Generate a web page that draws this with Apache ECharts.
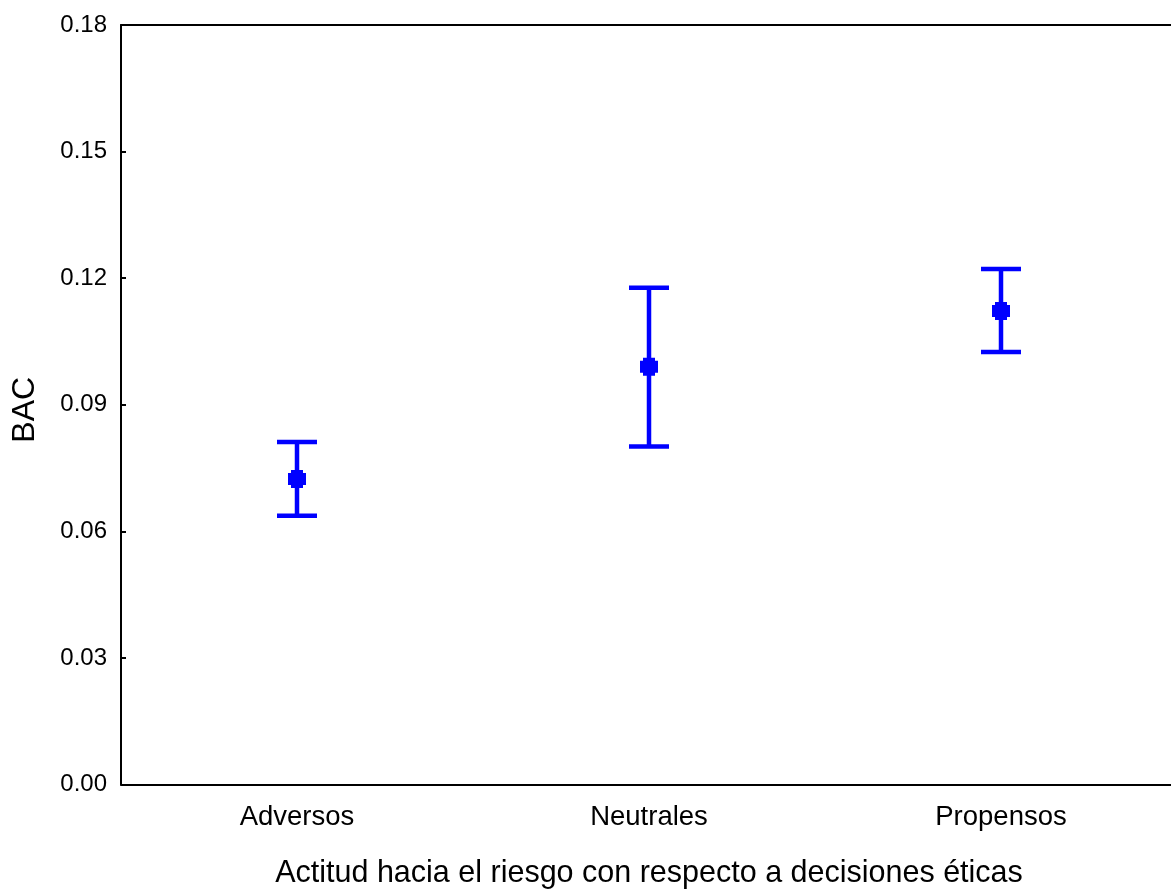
<!DOCTYPE html>
<html>
<head>
<meta charset="utf-8">
<script src="https://cdn.jsdelivr.net/npm/echarts@6/dist/echarts.min.js"></script>
<style>
  html, body { margin: 0; padding: 0; background: #fff; overflow: hidden; }
  #chart { width: 1171px; height: 889px; }
</style>
</head>
<body>
<div id="chart"></div>
<script>
// Group categories and the mean BAC with its interval bounds
const categories = ['Adversos', 'Neutrales', 'Propensos'];
const means = [0.0724, 0.0990, 0.1122];
const lowers = [0.0637, 0.0801, 0.1025];
const uppers = [0.0812, 0.1177, 0.1222];
const yTicks = [0, 0.03, 0.06, 0.09, 0.12, 0.15, 0.18];

const BLUE = '#0000ff';
const FONT = '"Liberation Sans", Arial, sans-serif';

const chart = echarts.init(document.getElementById('chart'));

chart.setOption({
  animation: false,
  // the plot frame runs slightly past the right edge of the canvas
  grid: { left: 121, top: 25, width: 1056, height: 759.5, outerBoundsMode: 'none', containLabel: false },
  xAxis: [
    {
      type: 'category',
      data: categories,
      position: 'bottom',
      axisLine: { lineStyle: { color: '#000', width: 2 } },
      axisTick: { inside: true, alignWithLabel: true, length: 5, lineStyle: { color: '#000', width: 2 } },
      axisLabel: { color: '#000', fontFamily: FONT, fontSize: 27.5, margin: 19 },
      name: 'Actitud hacia el riesgo con respecto a decisiones éticas',
      nameLocation: 'middle',
      nameGap: 74,
      nameTextStyle: { color: '#000', fontFamily: FONT, fontSize: 30.5 }
    },
    {
      type: 'category',
      data: categories,
      position: 'top',
      axisLine: { lineStyle: { color: '#000', width: 2 } },
      axisTick: { inside: true, alignWithLabel: true, length: 5, lineStyle: { color: '#000', width: 2 } },
      axisLabel: { show: false }
    }
  ],
  yAxis: {
    type: 'value',
    min: yTicks[0],
    max: yTicks[yTicks.length - 1],
    interval: 0.03,
    axisLine: { show: true, lineStyle: { color: '#000', width: 2 } },
    axisTick: { show: true, inside: true, length: 5, lineStyle: { color: '#000', width: 2 } },
    splitLine: { show: false },
    axisLabel: {
      color: '#000', fontFamily: FONT, fontSize: 24, margin: 14,
      formatter: v => v.toFixed(2)
    },
    name: 'BAC',
    nameLocation: 'middle',
    nameGap: 80,
    nameRotate: 90,
    nameTextStyle: { color: '#000', fontFamily: FONT, fontSize: 32, padding: [0, 10, 0, 0] }
  },
  series: [
    {
      // whiskers with end caps
      type: 'custom',
      xAxisIndex: 0,
      data: categories.map((c, i) => [i, lowers[i], uppers[i]]),
      renderItem: (params, api) => {
        const lo = api.coord([api.value(0), api.value(1)]);
        const hi = api.coord([api.value(0), api.value(2)]);
        const half = 20;
        const style = { stroke: BLUE, lineWidth: 4.5, fill: null };
        return {
          type: 'group',
          children: [
            { type: 'line', shape: { x1: lo[0], y1: lo[1], x2: hi[0], y2: hi[1] }, style },
            { type: 'line', shape: { x1: hi[0] - half, y1: hi[1], x2: hi[0] + half, y2: hi[1] }, style },
            { type: 'line', shape: { x1: lo[0] - half, y1: lo[1], x2: lo[0] + half, y2: lo[1] }, style }
          ]
        };
      },
      z: 2
    },
    {
      // group means: small square with notched corners
      type: 'scatter',
      xAxisIndex: 0,
      data: categories.map((c, i) => [i, means[i]]),
      symbol: 'path://M3,0 L15,0 L15,3 L18,3 L18,15 L15,15 L15,18 L3,18 L3,15 L0,15 L0,3 L3,3 Z',
      symbolSize: 18,
      itemStyle: { color: BLUE, opacity: 1 },
      z: 3
    }
  ]
});
</script>
</body>
</html>
